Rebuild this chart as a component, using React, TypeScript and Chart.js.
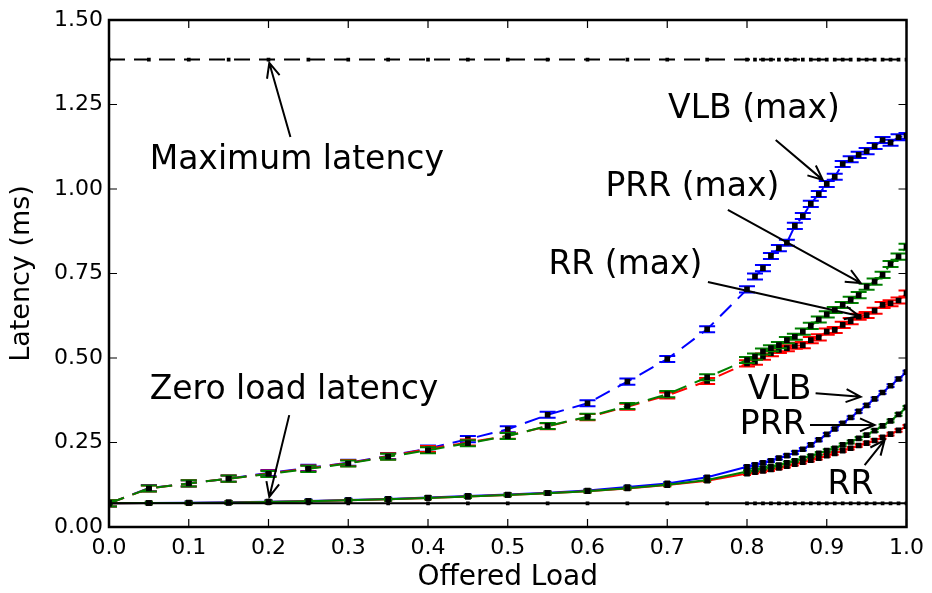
import React, { useEffect, useRef } from "react";
import { Chart, registerables } from "chart.js";

Chart.register(...registerables);

// ---------- data ----------
const X_LOAD = [
  0.0, 0.05, 0.1, 0.15, 0.2, 0.25, 0.3, 0.35, 0.4, 0.45, 0.5, 0.55, 0.6, 0.65, 0.7, 0.75,
  0.8, 0.81, 0.82, 0.83, 0.84, 0.85, 0.86, 0.87, 0.88, 0.89, 0.9, 0.91, 0.92, 0.93, 0.94,
  0.95, 0.96, 0.97, 0.98, 0.99, 1.0,
];

const MAX_LATENCY = [
  1.383, 1.383, 1.383, 1.383, 1.383, 1.383, 1.383, 1.383, 1.383, 1.383, 1.383, 1.383, 1.383,
  1.383, 1.383, 1.383, 1.383, 1.383, 1.383, 1.383, 1.383, 1.383, 1.383, 1.383, 1.383, 1.383,
  1.383, 1.383, 1.383, 1.383, 1.383, 1.383, 1.383, 1.383, 1.383, 1.383, 1.383,
];

const ZERO_LOAD = [
  0.07, 0.07, 0.07, 0.07, 0.07, 0.07, 0.07, 0.07, 0.07, 0.07, 0.07, 0.07, 0.07, 0.07, 0.07,
  0.07, 0.07, 0.07, 0.07, 0.07, 0.07, 0.07, 0.07, 0.07, 0.07, 0.07, 0.07, 0.07, 0.07, 0.07,
  0.07, 0.07, 0.07, 0.07, 0.07, 0.07, 0.07,
];

const VLB_MAX = [
  0.07, 0.115, 0.129, 0.143, 0.16, 0.175, 0.19, 0.21, 0.232, 0.26, 0.289, 0.332, 0.366, 0.43,
  0.497, 0.585, 0.703, 0.741, 0.766, 0.802, 0.825, 0.841, 0.891, 0.92, 0.956, 0.985, 1.015,
  1.036, 1.074, 1.088, 1.101, 1.112, 1.127, 1.145, 1.137, 1.153, 1.157,
];

const PRR_MAX = [
  0.07, 0.114, 0.129, 0.143, 0.157, 0.172, 0.188, 0.208, 0.227, 0.248, 0.269, 0.299, 0.326,
  0.358, 0.393, 0.443, 0.494, 0.504, 0.519, 0.529, 0.538, 0.553, 0.563, 0.578, 0.595, 0.614,
  0.629, 0.642, 0.657, 0.672, 0.686, 0.711, 0.726, 0.746, 0.778, 0.8, 0.829,
];

const RR_MAX = [
  0.07, 0.114, 0.129, 0.143, 0.158, 0.173, 0.189, 0.209, 0.231, 0.25, 0.27, 0.298, 0.325,
  0.356, 0.389, 0.432, 0.484, 0.489, 0.504, 0.514, 0.524, 0.529, 0.536, 0.538, 0.553, 0.561,
  0.578, 0.583, 0.598, 0.609, 0.622, 0.627, 0.64, 0.657, 0.662, 0.67, 0.691,
];

const VLB_AVG = [
  0.07, 0.071, 0.072, 0.073, 0.075, 0.077, 0.08, 0.083, 0.087, 0.092, 0.096, 0.101, 0.108,
  0.118, 0.129, 0.147, 0.178, 0.184, 0.19, 0.196, 0.204, 0.211, 0.22, 0.23, 0.243, 0.258,
  0.274, 0.29, 0.307, 0.324, 0.342, 0.36, 0.379, 0.398, 0.418, 0.438, 0.458,
];

const PRR_AVG = [
  0.07, 0.071, 0.071, 0.072, 0.074, 0.076, 0.079, 0.082, 0.086, 0.09, 0.095, 0.1, 0.106,
  0.115, 0.125, 0.139, 0.164, 0.169, 0.174, 0.178, 0.183, 0.19, 0.196, 0.203, 0.21, 0.218,
  0.226, 0.233, 0.243, 0.252, 0.262, 0.272, 0.285, 0.299, 0.314, 0.333, 0.354,
];

const RR_AVG = [
  0.07, 0.071, 0.071, 0.072, 0.074, 0.076, 0.079, 0.082, 0.086, 0.09, 0.095, 0.1, 0.106,
  0.114, 0.124, 0.137, 0.158, 0.162, 0.166, 0.17, 0.175, 0.18, 0.186, 0.192, 0.198, 0.204,
  0.211, 0.218, 0.226, 0.233, 0.241, 0.248, 0.256, 0.265, 0.275, 0.286, 0.298,
];

const ERR_MAX = 0.009;
const ERR_AVG = 0.004;

const X_TITLE = "Offered Load";
const Y_TITLE = "Latency (ms)";

// annotation: text anchored (left, middle) at (x, y); arrow from (ax, ay) to (tx, ty), data coords
const ANNOTATIONS = [
  { text: "Maximum latency", x: 0.051, y: 1.086, ax: 0.2275, ay: 1.154, tx: 0.201, ty: 1.373 },
  { text: "Zero load latency", x: 0.051, y: 0.405, ax: 0.226, ay: 0.331, tx: 0.201, ty: 0.089 },
  { text: "VLB (max)", x: 0.701, y: 1.236, ax: 0.836, ay: 1.145, tx: 0.895, ty: 1.027 },
  { text: "PRR (max)", x: 0.6225, y: 1.006, ax: 0.776, ay: 0.938, tx: 0.9425, ty: 0.722 },
  { text: "RR (max)", x: 0.551, y: 0.775, ax: 0.751, ay: 0.725, tx: 0.941, ty: 0.624 },
  { text: "VLB", x: 0.801, y: 0.405, ax: 0.886, ay: 0.396, tx: 0.9425, ty: 0.385 },
  { text: "PRR", x: 0.791, y: 0.302, ax: 0.879, ay: 0.302, tx: 0.96, ty: 0.302 },
  { text: "RR", x: 0.901, y: 0.124, ax: 0.9475, ay: 0.183, tx: 0.9725, ty: 0.257 },
];

const FONT = "'DejaVu Sans', sans-serif";

function pts(ys: number[]) {
  return X_LOAD.map((x, i) => ({ x, y: ys[i] }));
}

const decorPlugin = {
  id: "decor",
  beforeDatasetDraw(chart: any, args: any) {
    const ds = chart.data.datasets[args.index];
    const err = ds.errBar;
    if (!err) return;
    const { ctx, chartArea } = chart;
    const ys = chart.scales.y;
    const cap = ds.capHalf || 7;
    ctx.save();
    ctx.beginPath();
    ctx.rect(chartArea.left, chartArea.top, chartArea.right - chartArea.left, chartArea.bottom - chartArea.top);
    ctx.clip();
    ctx.strokeStyle = ds.borderColor;
    ctx.lineWidth = 2;
    args.meta.data.forEach((el: any, i: number) => {
      const v = ds.data[i].y;
      const yt = ys.getPixelForValue(v + err);
      const yb = ys.getPixelForValue(v - err);
      ctx.beginPath();
      ctx.moveTo(el.x - cap, yt);
      ctx.lineTo(el.x + cap, yt);
      ctx.moveTo(el.x - cap, yb);
      ctx.lineTo(el.x + cap, yb);
      ctx.moveTo(el.x, yt);
      ctx.lineTo(el.x, yb);
      ctx.stroke();
    });
    ctx.restore();
  },
  afterDraw(chart: any) {
    const { ctx, chartArea } = chart;
    const xs = chart.scales.x;
    const ys = chart.scales.y;
    const { left, right, top, bottom } = chartArea;
    ctx.save();
    // inward ticks
    ctx.strokeStyle = "#000";
    ctx.lineWidth = 1.2;
    const tl = 8;
    xs.ticks.forEach((t: any) => {
      const px = xs.getPixelForValue(t.value);
      ctx.beginPath();
      ctx.moveTo(px, bottom);
      ctx.lineTo(px, bottom - tl);
      ctx.moveTo(px, top);
      ctx.lineTo(px, top + tl);
      ctx.stroke();
    });
    ys.ticks.forEach((t: any) => {
      const py = ys.getPixelForValue(t.value);
      ctx.beginPath();
      ctx.moveTo(left, py);
      ctx.lineTo(left + tl, py);
      ctx.moveTo(right, py);
      ctx.lineTo(right - tl, py);
      ctx.stroke();
    });
    // frame
    ctx.lineWidth = 2.5;
    ctx.strokeRect(left, top, right - left, bottom - top);

    // annotations
    ctx.fillStyle = "#000";
    ctx.font = `33px ${FONT}`;
    ctx.textAlign = "left";
    ctx.textBaseline = "middle";
    ctx.lineWidth = 2;
    ANNOTATIONS.forEach((a) => {
      ctx.fillText(a.text, xs.getPixelForValue(a.x), ys.getPixelForValue(a.y));
      const x0 = xs.getPixelForValue(a.ax);
      const y0 = ys.getPixelForValue(a.ay);
      const x1 = xs.getPixelForValue(a.tx);
      const y1 = ys.getPixelForValue(a.ty);
      const ang = Math.atan2(y1 - y0, x1 - x0);
      const hl = 16;
      const spread = 0.42;
      ctx.beginPath();
      ctx.moveTo(x0, y0);
      ctx.lineTo(x1, y1);
      ctx.moveTo(x1 - hl * Math.cos(ang - spread), y1 - hl * Math.sin(ang - spread));
      ctx.lineTo(x1, y1);
      ctx.lineTo(x1 - hl * Math.cos(ang + spread), y1 - hl * Math.sin(ang + spread));
      ctx.stroke();
    });
    ctx.restore();
  },
};

function lineDs(data: number[], color: string, dashed: boolean, err: number, markerR: number, capHalf: number) {
  return {
    data: pts(data),
    borderColor: color,
    backgroundColor: color,
    borderWidth: 2,
    borderDash: dashed ? [16, 9] : [],
    pointStyle: "rect",
    pointRadius: markerR,
    pointBackgroundColor: "#000",
    pointBorderWidth: 0,
    pointHoverRadius: markerR,
    fill: false,
    tension: 0,
    clip: 0,
    errBar: err,
    capHalf,
  };
}

export default function App() {
  const ref = useRef<HTMLCanvasElement>(null);

  useEffect(() => {
    if (!ref.current) return;
    const chart = new Chart(ref.current, {
      type: "line",
      data: {
        datasets: [
          lineDs(ZERO_LOAD, "#000000", false, 0, 2.6, 0),
          lineDs(MAX_LATENCY, "#000000", true, 0, 2.6, 0),
          lineDs(PRR_AVG, "#008000", false, ERR_AVG, 4, 4),
          lineDs(RR_AVG, "#ff0000", false, ERR_AVG, 4, 4),
          lineDs(VLB_AVG, "#0000ff", false, ERR_AVG, 4, 4),
          lineDs(PRR_MAX, "#008000", true, ERR_MAX, 4, 8),
          lineDs(RR_MAX, "#ff0000", true, ERR_MAX, 4, 8),
          lineDs(VLB_MAX, "#0000ff", true, ERR_MAX, 4, 8),
        ] as any,
      },
      options: {
        animation: false,
        responsive: false,
        devicePixelRatio: 1,
        layout: { padding: { top: 20, right: 24, left: 0, bottom: 0 } },
        plugins: { legend: { display: false }, tooltip: { enabled: false } },
        events: [],
        scales: {
          x: {
            type: "linear",
            min: 0,
            max: 1,
            grid: { display: false, drawTicks: false },
            border: { display: false },
            ticks: {
              stepSize: 0.1,
              padding: 8,
              color: "#000",
              font: { family: FONT, size: 22 },
              maxRotation: 0,
              callback: (v: any) => Number(v).toFixed(1),
            },
            title: {
              display: true,
              text: X_TITLE,
              color: "#000",
              font: { family: FONT, size: 28 },
              padding: { top: 0, bottom: -2 },
            },
            afterFit: (s: any) => {
              s.height = 66;
            },
          },
          y: {
            type: "linear",
            min: 0,
            max: 1.5,
            grid: { display: false, drawTicks: false },
            border: { display: false },
            ticks: {
              stepSize: 0.25,
              padding: 6,
              color: "#000",
              font: { family: FONT, size: 22 },
              callback: (v: any) => Number(v).toFixed(2),
            },
            title: {
              display: true,
              text: Y_TITLE,
              color: "#000",
              font: { family: FONT, size: 27 },
              padding: { top: 6, bottom: 0 },
            },
            afterFit: (s: any) => {
              s.width = 109;
            },
          },
        },
      } as any,
      plugins: [decorPlugin],
    });
    return () => chart.destroy();
  }, []);

  return (
    <div style={{ position: "fixed", left: 0, top: 0, width: 932, height: 593, background: "#fff" }}>
      <canvas ref={ref} width={932} height={593} style={{ display: "block", width: 932, height: 593 }} />
    </div>
  );
}
